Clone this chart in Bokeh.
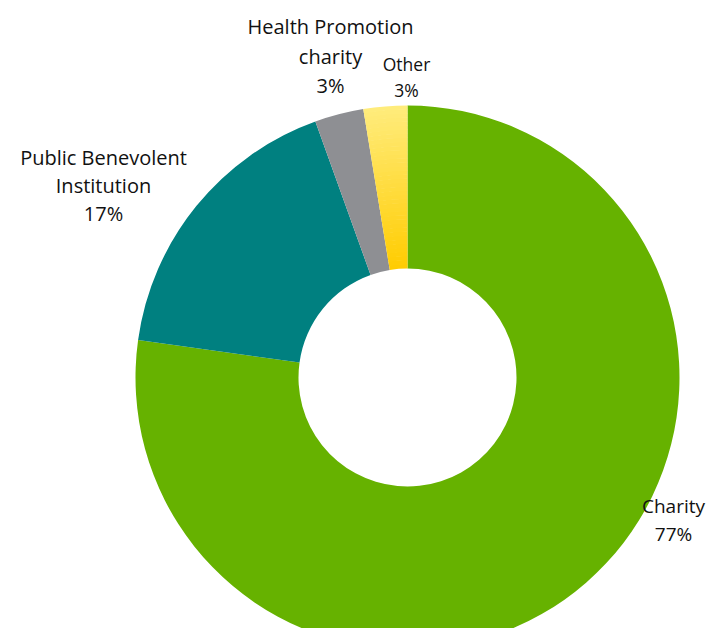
import numpy as np
from bokeh.plotting import figure
from bokeh.models import Range1d
from bokeh.core.properties import value
from bokeh.embed import file_html
from bokeh.resources import INLINE

# ---- data ----
categories = ["Charity", "Public Benevolent Institution", "Health Promotion charity", "Other"]
shares = [77.2, 17.3, 2.9, 2.6]
label_lines = [["Charity"], ["Public Benevolent", "Institution"], ["Health Promotion", "charity"], ["Other"]]

# ---- styling / layout ----
colors = ["#66B200", "#008080", "#8E8F93", None]
yellow_inner = (255, 204, 0)
yellow_outer = (255, 236, 125)
W, H = 708, 628
cx, cy = 407, H - 377
r_out, r_in = 272, 109
# top-line centre of each label (x, y from top) and line spacing
label_pos = [(673, 505), (103, 157), (330, 26), (406, 63)]
label_size = ["19px", "20px", "20px", "17.5px"]
label_step = [28, 28, 29.5, 26.5]

p = figure(width=W, height=H, x_range=Range1d(0, W), y_range=Range1d(0, H),
           output_backend="svg", toolbar_location=None, min_border=0)
p.axis.visible = False
p.grid.visible = False
p.outline_line_color = None
p.background_fill_color = "white"
p.border_fill_color = "white"

total = sum(shares)
ang = np.pi / 2
starts, ends = [], []
for s in shares:
    a = 2 * np.pi * s / total
    starts.append(ang)
    ends.append(ang - a)
    ang -= a

for i, c in enumerate(colors):
    if c is not None:
        p.annular_wedge(x=cx, y=cy, inner_radius=r_in, outer_radius=r_out,
                        start_angle=ends[i], end_angle=starts[i],
                        fill_color=c, line_color=None)
    else:
        n = 40
        edges = np.linspace(r_in, r_out, n + 1)
        for k in range(n):
            t = (k + 0.5) / n
            col = tuple(int(round(yellow_inner[j] + (yellow_outer[j] - yellow_inner[j]) * t)) for j in range(3))
            p.annular_wedge(x=cx, y=cy, inner_radius=edges[k],
                            outer_radius=min(edges[k + 1] + 0.6, r_out),
                            start_angle=ends[i], end_angle=starts[i],
                            fill_color="#%02x%02x%02x" % col, line_color=None)

for i in range(len(categories)):
    lines = label_lines[i] + [f"{round(shares[i])}%"]
    x0, y0 = label_pos[i]
    xs = [x0] * len(lines)
    ys = [H - (y0 + k * label_step[i]) for k in range(len(lines))]
    p.text(x=xs, y=ys, text=lines, text_align="center", text_baseline="middle",
           text_font=value("Open Sans"), text_font_size=label_size[i],
           text_color="#111111")

open("out.html", "w").write(file_html(p, INLINE))
